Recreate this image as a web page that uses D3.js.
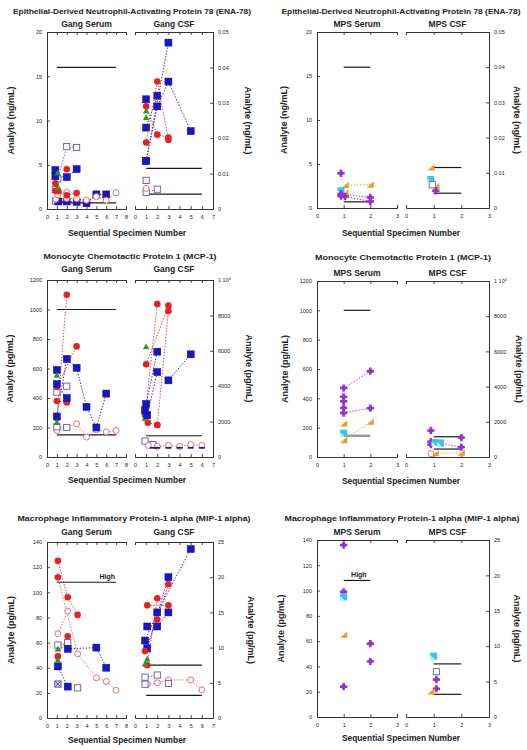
<!DOCTYPE html>
<html><head><meta charset="utf-8">
<script src="https://cdn.jsdelivr.net/npm/d3@7"></script>
<style>
body{margin:0;background:#fff}
svg{display:block}
text{font-family:"Liberation Sans",Arial,Helvetica,sans-serif;fill:#222}
</style></head>
<body><svg id="c" width="527" height="750"></svg>
<script>
// ---------------- DATA ----------------
// series entries: [kind, connected(1/0), points [x, y]]
const titles = [
  "Epithelial-Derived Neutrophil-Activating Protein 78 (ENA-78)",
  "Monocyte Chemotactic Protein 1 (MCP-1)",
  "Macrophage Inflammatory Protein-1 alpha (MIP-1 alpha)"
];
const subtitlesGang = ["Gang Serum", "Gang CSF"];
const subtitlesMPS = ["MPS Serum", "MPS CSF"];
const yLabels = ["Analyte (ng/mL)", "Analyte (pg/mL)", "Analyte (pg/mL)"];
const rightLabels = ["Analyte (ng/mL)", "Analyte (pg/mL)", "Analyte (pg/mL)"];
const xLabel = "Sequential Specimen Number";

const xTicksGangSerum = [0,1,2,3,4,5,6,7,8];
const xTicksGangCSF = [0,1,2,3,4,5,6,7];
const xTicksMPS = [0,1,2,3];

const enaTicksL = [0,5,10,15,20];
const enaTicksR = [0,0.01,0.02,0.03,0.04,0.05];
const mcpTicksL = [0,200,400,600,800,1000,1200];
const mcpTicksR = [0,2000,4000,6000,8000,10000];
const mipTicksL = [0,20,40,60,80,100,120,140];
const mipTicksR = [0,5,10,15,20,25];

const enaGangSerum = [
  ["ref",0,[[1,16],[7,16]]],
  ["ref",0,[[1,0.7],[7,0.7]]],
  ["osq",1,[[1.1,3.4],[2,7.05],[3,6.95]]],
  ["osq",0,[[0.85,2.2],[0.85,0.9]]],
  ["sq",1,[[0.85,3.7],[2,3.6],[3,4.5]]],
  ["sq",0,[[0.85,4.4]]],
  ["sq",1,[[1.15,0.85],[2,0.85],[3,0.8],[4,0.65],[5,1.65],[6,1.65]]],
  ["oci",1,[[0.9,1.1],[2,1.2],[3,1.15],[4,1.0],[5,1.4],[6,1.0],[7,1.85]]],
  ["oci",1,[[1.1,1.6],[2,1.9]]],
  ["ci",1,[[1.15,2.0],[2,1.55],[3,1.8]]],
  ["ci",0,[[0.85,2.9],[0.85,2.05],[2,4.5]]],
  ["tri",0,[[1.1,4.1],[1.1,2.5]]]
];
const enaGangCSF = [
  ["ref",0,[[1,0.0115],[6,0.0115]]],
  ["ref",0,[[1,0.0042],[6,0.0042]]],
  ["sq",1,[[1,0.0136],[3,0.047]]],
  ["sq",1,[[1,0.023],[2,0.032]]],
  ["sq",1,[[1,0.0136],[2,0.029],[3,0.036],[5,0.022]]],
  ["sq",0,[[1,0.031]]],
  ["ci",1,[[1,0.0188],[2,0.036],[3,0.0195]]],
  ["ci",1,[[1,0.029],[2,0.021],[3,0.0202]]],
  ["tri",0,[[1,0.0277],[1,0.0259]]],
  ["osq",1,[[1,0.0047],[2,0.0056]]],
  ["osq",0,[[1,0.0081]]],
  ["oci",0,[[1,0.0058]]]
];
const enaMPSSerum = [
  ["ref",0,[[1,16],[2,16]]],
  ["ref",0,[[1,0.7],[2,0.7]]],
  ["pur",0,[[0.9,3.95]]],
  ["ora",1,[[1.05,2.6],[2,2.65]]],
  ["cya",0,[[0.9,1.95]]],
  ["ora",0,[[1.05,1.75]]],
  ["pur",1,[[0.9,1.6],[2,1.2]]],
  ["pur",1,[[1.05,1.3],[2,0.75]]],
  ["pur",0,[[0.9,1.35]]]
];
const enaMPSCSF = [
  ["ref",0,[[1,0.0115],[2,0.0115]]],
  ["ref",0,[[1,0.0042],[2,0.0042]]],
  ["ora",0,[[0.9,0.0115]]],
  ["cya",0,[[0.9,0.0081]]],
  ["bsq",0,[[0.95,0.0066]]],
  ["ora",0,[[1.08,0.0062]]],
  ["pur",0,[[1.08,0.0049]]]
];

const mcpGangSerum = [
  ["ref",0,[[1,1000],[7,1000]]],
  ["ref",0,[[1,150],[7,150]]],
  ["oci",1,[[1,180],[2,200],[3,225],[4,135],[5,185],[6,170],[7,180]]],
  ["osq",1,[[1,205],[2,200]]],
  ["osq",0,[[1,440],[2,480]]],
  ["ci",1,[[1,265],[2,1100]]],
  ["ci",1,[[1,475],[3,750]]],
  ["ci",1,[[1,380],[2,370]]],
  ["sq",1,[[1,275],[2,665],[3,605],[4,340],[5,200],[6,430]]],
  ["sq",1,[[1,495],[2,400]]],
  ["sq",0,[[1,590]]],
  ["tri",0,[[1,555],[1,235]]]
];
const mcpGangCSF = [
  ["ref",0,[[1,1200],[6,1200]]],
  ["osq",1,[[0.9,900],[1.6,700]]],
  ["oci",1,[[1.2,650],[2,600],[3,650],[4,600],[5,700],[6,650]]],
  ["dash",0,[[1.6,520],[2,520],[3,520],[4,520],[5,520],[6,520]]],
  ["ci",1,[[0.9,2370],[2,8640]]],
  ["ci",1,[[2,1810],[3,8250]]],
  ["ci",1,[[1.15,1940],[2,1810]]],
  ["ci",1,[[1,5240],[3,8550]]],
  ["tri",0,[[1,6230],[0.9,2200]]],
  ["sq",1,[[1,3000],[2,5950]]],
  ["sq",1,[[1.1,2360],[2,4800]]],
  ["sq",1,[[3,4330],[5,5800]]],
  ["sq",0,[[0.9,2640]]]
];
const mcpMPSSerum = [
  ["ref",0,[[1,1000],[2,1000]]],
  ["refg",0,[[1,145],[2,145]]],
  ["pur",1,[[1,470],[2,585]]],
  ["pur",1,[[1,300],[2,333]]],
  ["pur",0,[[1,410],[1,380],[1,335]]],
  ["ora",1,[[1,115],[2,240]]],
  ["ora",0,[[1,228]]],
  ["cya",0,[[1,162]]]
];
const mcpMPSCSF = [
  ["ref",0,[[1,1150],[2,1150]]],
  ["ref",0,[[1,450],[2,450]]],
  ["pur",0,[[0.9,1500],[0.9,700],[2,1100]]],
  ["pur",1,[[0.9,870],[2,560]]],
  ["cya",1,[[1.05,820],[1.25,800]]],
  ["ora",1,[[1.05,210],[2,240]]],
  ["oci",0,[[0.9,190]]]
];

const mipGangSerum = [
  ["ref",0,[[1,108],[7,108]]],
  ["lr",1,[[1.1,112],[3.1,51]]],
  ["oci",1,[[1.1,67],[2.1,85]]],
  ["oci",1,[[3.1,51],[5,32],[6,29],[7,22]]],
  ["ci",1,[[1.1,125],[2.1,96],[3.1,82]]],
  ["ci",1,[[1.1,49],[2.1,65]]],
  ["ci",0,[[1.1,112]]],
  ["osq",1,[[1.1,58],[2.1,60]]],
  ["osq",0,[[3.1,24]]],
  ["sq",1,[[2.1,55],[5,56],[6,40]]],
  ["sq",1,[[1.1,41],[2.1,25]]],
  ["tri",0,[[1.1,55],[1.1,46]]],
  ["xsq",0,[[1.1,27]]]
];
const mipGangCSF = [
  ["ref",0,[[1,7.5],[6,7.5]]],
  ["ref",0,[[1,3.2],[6,3.2]]],
  ["oci",1,[[1.1,4.8],[2,5.0],[3,5.4],[5,5.4],[6,4.0]]],
  ["osq",1,[[0.9,5.8],[2,6.1]]],
  ["osq",0,[[0.9,4.8],[3,4.9]]],
  ["sq",1,[[1.1,9.9],[3,20]]],
  ["sq",1,[[0.9,11],[2,15],[5,24]]],
  ["sq",1,[[1.1,13],[2,13],[3,15]]],
  ["ci",1,[[0.9,9.5],[2,14],[3,19]]],
  ["ci",1,[[1.1,16],[3,16]]],
  ["ci",1,[[1.1,7.5],[2,17]]],
  ["tri",0,[[1.1,8.4],[0.9,7.7]]]
];
const mipMPSSerum = [
  ["ref",0,[[1,108],[2,108]]],
  ["pur",0,[[1,136],[1,99],[2,58],[2,44],[1,24]]],
  ["cya",0,[[1,95]]],
  ["ora",0,[[1,65]]]
];
const mipMPSCSF = [
  ["ref",0,[[1,7.5],[2,7.5]]],
  ["ref",0,[[1,3.2],[2,3.2]]],
  ["cya",0,[[1,8.6]]],
  ["bsq",0,[[1.1,6.4]]],
  ["pur",0,[[1.1,5.3],[1.1,4.0]]],
  ["ora",0,[[0.9,3.6]]]
];

// ---------------- DRAWING ----------------
const svg = d3.select("#c");
const AX = "#333";
const LINECOL = {sq:"#3030a8",osq:"#6a6ac0",ci:"#e04040",oci:"#e07070",lr:"#e07070",
  pur:"#a040d0",ora:"#f0a030",cya:"#40c0e0",tri:"#2a9a2a",bsq:"#666",xsq:"#3030a8",dash:"#22227a"};

function marker(g, kind, x, y){
  if(kind==="sq"){
    g.append("rect").attr("x",x-3.5).attr("y",y-3.5).attr("width",7).attr("height",7)
      .attr("fill","#1717c9").attr("stroke","#0b0b8c").attr("stroke-width",0.5);
  } else if(kind==="osq"){
    g.append("rect").attr("x",x-3.1).attr("y",y-3.1).attr("width",6.2).attr("height",6.2)
      .attr("fill","#fff").attr("stroke","#5a5ab4").attr("stroke-width",0.9);
  } else if(kind==="bsq"){
    g.append("rect").attr("x",x-3.1).attr("y",y-3.1).attr("width",6.2).attr("height",6.2)
      .attr("fill","#fff").attr("stroke","#666").attr("stroke-width",0.9);
  } else if(kind==="xsq"){
    g.append("rect").attr("x",x-3.1).attr("y",y-3.1).attr("width",6.2).attr("height",6.2)
      .attr("fill","#d8d8f4").attr("stroke","#4646b0").attr("stroke-width",0.9);
    g.append("path").attr("d",`M${x-2.6},${y-2.6}L${x+2.6},${y+2.6}M${x+2.6},${y-2.6}L${x-2.6},${y+2.6}`)
      .attr("stroke","#2a2a90").attr("stroke-width",0.8);
  } else if(kind==="ci"){
    g.append("circle").attr("cx",x).attr("cy",y).attr("r",3.3).attr("fill","#ea1f1f");
  } else if(kind==="oci"){
    g.append("circle").attr("cx",x).attr("cy",y).attr("r",3).attr("fill","#fff")
      .attr("stroke","#e06262").attr("stroke-width",0.9);
  } else if(kind==="tri"){
    g.append("path").attr("d",`M${x},${y-3.3}L${x+3.3},${y+2.6}L${x-3.3},${y+2.6}Z`).attr("fill","#2a9a2a");
  } else if(kind==="pur"){
    g.append("path").attr("transform",`translate(${x},${y})`)
      .attr("d",d3.symbol(d3.symbolCross,30)()).attr("fill","#9a2fd2");
    g.append("circle").attr("cx",x).attr("cy",y).attr("r",2.3).attr("fill","#9a2fd2");
  } else if(kind==="ora"){
    g.append("path").attr("d",`M${x-3.6},${y+3}L${x+3.6},${y+3}L${x+3.6},${y-3.4}Z`).attr("fill","#f39c25");
  } else if(kind==="cya"){
    g.append("rect").attr("x",x-3.5).attr("y",y-3.5).attr("width",7).attr("height",7).attr("fill","#38c4ee");
    g.append("path").attr("d",`M${x-3.5},${y+3.5}L${x-3.5},${y-1}L${x+1},${y+3.5}Z`).attr("fill","#c8f0ff");
  } else if(kind==="dash"){
    g.append("rect").attr("x",x-3).attr("y",y-0.9).attr("width",6).attr("height",1.8).attr("fill","#22227a");
  }
}

function drawSeries(g, xs, ys, series){
  series.filter(s=>s[0]==="ref"||s[0]==="refg").forEach(s=>{
    g.append("line").attr("x1",xs(s[2][0][0])).attr("x2",xs(s[2][1][0]))
      .attr("y1",ys(s[2][0][1])).attr("y2",ys(s[2][1][1]))
      .attr("stroke",s[0]==="ref"?"#1a1a1a":"#9a9a9a").attr("stroke-width",s[0]==="ref"?1.2:2.4);
  });
  const line = d3.line().x(d=>xs(d[0])).y(d=>ys(d[1]));
  series.filter(s=>s[0]!=="ref"&&s[0]!=="refg"&&s[1]===1&&s[2].length>1).forEach(s=>{
    g.append("path").attr("d",line(s[2])).attr("fill","none")
      .attr("stroke",LINECOL[s[0]]).attr("stroke-width",1).attr("stroke-dasharray","1.4,1.6");
  });
  series.filter(s=>s[0]!=="ref"&&s[0]!=="refg"&&s[0]!=="lr").forEach(s=>{
    s[2].forEach(p=>marker(g,s[0],xs(p[0]),ys(p[1])));
  });
}

function styleAxis(sel){
  sel.selectAll(".domain").attr("stroke",AX).attr("stroke-width",1);
  sel.selectAll(".tick line").attr("stroke",AX).attr("stroke-width",0.9);
  sel.selectAll(".tick text").attr("font-size",5.5).attr("fill","#333")
    .attr("font-family","Liberation Sans, Arial, sans-serif");
}

const fmtD = d3.format("d");

function panel(p){
  const g = svg.append("g");
  const yl = d3.scaleLinear().domain([p.ticksL[0],p.ticksL[p.ticksL.length-1]]).range([p.yb,p.yt]);
  const yr = d3.scaleLinear().domain([p.ticksR[0],p.ticksR[p.ticksR.length-1]]).range([p.yb,p.yt]);
  const xl = d3.scaleLinear().domain([p.xtL[0],p.xtL[p.xtL.length-1]]).range(p.xrL);
  const xr = d3.scaleLinear().domain([p.xtR[0],p.xtR[p.xtR.length-1]]).range(p.xrR);

  styleAxis(g.append("g").attr("transform",`translate(${p.xrL[0]},0)`)
    .call(d3.axisLeft(yl).tickValues(p.ticksL).tickSizeInner(-3).tickSizeOuter(0).tickPadding(5).tickFormat(fmtD)));
  const ra = g.append("g").attr("transform",`translate(${p.xrR[1]},0)`)
    .call(d3.axisRight(yr).tickValues(p.ticksR).tickSizeInner(-3).tickSizeOuter(0).tickPadding(5)
      .tickFormat(p.fmtR));
  styleAxis(ra);
  if(p.sup){
    ra.selectAll(".tick text").filter(d=>d===p.ticksR[p.ticksR.length-1]).text(null)
      .call(t=>{t.append("tspan").text("1 10");t.append("tspan").attr("dy",-2.5).attr("font-size",3.8).text("4");});
  }
  [[xl,p.xtL],[xr,p.xtR]].forEach(([xs,tv])=>{
    styleAxis(g.append("g").attr("transform",`translate(0,${p.yt})`)
      .call(d3.axisTop(xs).tickValues(tv).tickSizeInner(-3).tickSizeOuter(-3).tickFormat("")));
    styleAxis(g.append("g").attr("transform",`translate(0,${p.yb})`)
      .call(d3.axisBottom(xs).tickValues(tv).tickSizeInner(-3).tickSizeOuter(-3).tickPadding(6).tickFormat(fmtD)));
  });

  drawSeries(g.append("g"), xl, yl, p.sL);
  drawSeries(g.append("g"), xr, yr, p.sR);

  g.append("text").attr("x",p.tx).attr("y",p.ty).attr("text-anchor","middle")
    .attr("font-size",7.4).attr("font-weight","bold").attr("textLength",p.tw)
    .attr("lengthAdjust","spacingAndGlyphs").text(p.title);
  g.append("text").attr("x",(p.xrL[0]+p.xrL[1])/2).attr("y",p.sy).attr("text-anchor","middle")
    .attr("font-size",8.5).attr("font-weight","bold").text(p.subs[0]);
  g.append("text").attr("x",(p.xrR[0]+p.xrR[1])/2).attr("y",p.sy).attr("text-anchor","middle")
    .attr("font-size",8.5).attr("font-weight","bold").text(p.subs[1]);
  const my = (p.yt+p.yb)/2;
  g.append("text").attr("transform",`translate(${p.lx},${my}) rotate(-90)`).attr("text-anchor","middle")
    .attr("dy","0.35em").attr("font-size",9).attr("font-weight","bold").text(p.yl);
  g.append("text").attr("transform",`translate(${p.rx},${my}) rotate(90)`).attr("text-anchor","middle")
    .attr("dy","0.35em").attr("font-size",9).attr("font-weight","bold").text(p.yr);
  g.append("text").attr("x",p.xx).attr("y",p.xy).attr("text-anchor","middle")
    .attr("font-size",8.4).attr("font-weight","bold").text(xLabel);
  if(p.high){
    g.append("text").attr("x",xl(p.high[0])).attr("y",yl(p.high[1])-3).attr("text-anchor","middle")
      .attr("font-size",7).attr("font-weight","bold").text("High");
  }
}

const fmtENA = d=> d===0?"0":d3.format(".2f")(d);
const GL=[47,126], GR=[135,213], ML=[317,397], MR=[406,489];

panel({title:titles[0],tx:132,ty:14,tw:238,sy:27,subs:subtitlesGang,yt:32,yb:209,
  xrL:GL,xrR:GR,xtL:xTicksGangSerum,xtR:xTicksGangCSF,ticksL:enaTicksL,ticksR:enaTicksR,fmtR:fmtENA,
  lx:11,rx:248,yl:yLabels[0],yr:rightLabels[0],xx:127,xy:236,sL:enaGangSerum,sR:enaGangCSF});
panel({title:titles[0],tx:401,ty:14,tw:239,sy:27,subs:subtitlesMPS,yt:32,yb:208,
  xrL:ML,xrR:MR,xtL:xTicksMPS,xtR:xTicksMPS,ticksL:enaTicksL,ticksR:enaTicksR,fmtR:fmtENA,
  lx:284,rx:517,yl:yLabels[0],yr:rightLabels[0],xx:401,xy:236,sL:enaMPSSerum,sR:enaMPSCSF});

panel({title:titles[1],tx:130,ty:259,tw:173,sy:272,subs:subtitlesGang,yt:280,yb:457,
  xrL:GL,xrR:GR,xtL:xTicksGangSerum,xtR:xTicksGangCSF,ticksL:mcpTicksL,ticksR:mcpTicksR,fmtR:fmtD,sup:true,
  lx:10,rx:249,yl:yLabels[1],yr:rightLabels[1],xx:127,xy:483,sL:mcpGangSerum,sR:mcpGangCSF});
panel({title:titles[1],tx:403,ty:260,tw:176,sy:276,subs:subtitlesMPS,yt:281,yb:457,
  xrL:ML,xrR:MR,xtL:xTicksMPS,xtR:xTicksMPS,ticksL:mcpTicksL,ticksR:mcpTicksR,fmtR:fmtD,sup:true,
  lx:285,rx:519,yl:yLabels[1],yr:rightLabels[1],xx:401,xy:484,sL:mcpMPSSerum,sR:mcpMPSCSF});

panel({title:titles[2],tx:134,ty:521,tw:233,sy:535,subs:subtitlesGang,yt:542,yb:718,
  xrL:GL,xrR:GR,xtL:xTicksGangSerum,xtR:xTicksGangCSF,ticksL:mipTicksL,ticksR:mipTicksR,fmtR:fmtD,
  lx:11,rx:251,yl:yLabels[2],yr:rightLabels[2],xx:127,xy:743,sL:mipGangSerum,sR:mipGangCSF,high:[6.1,108]});
panel({title:titles[2],tx:402,ty:521,tw:235,sy:535,subs:subtitlesMPS,yt:540,yb:717,
  xrL:ML,xrR:MR,xtL:xTicksMPS,xtR:xTicksMPS,ticksL:mipTicksL,ticksR:mipTicksR,fmtR:fmtD,
  lx:281,rx:517,yl:yLabels[2],yr:rightLabels[2],xx:401,xy:741,sL:mipMPSSerum,sR:mipMPSCSF,high:[1.57,108]});
</script>
</body></html>
